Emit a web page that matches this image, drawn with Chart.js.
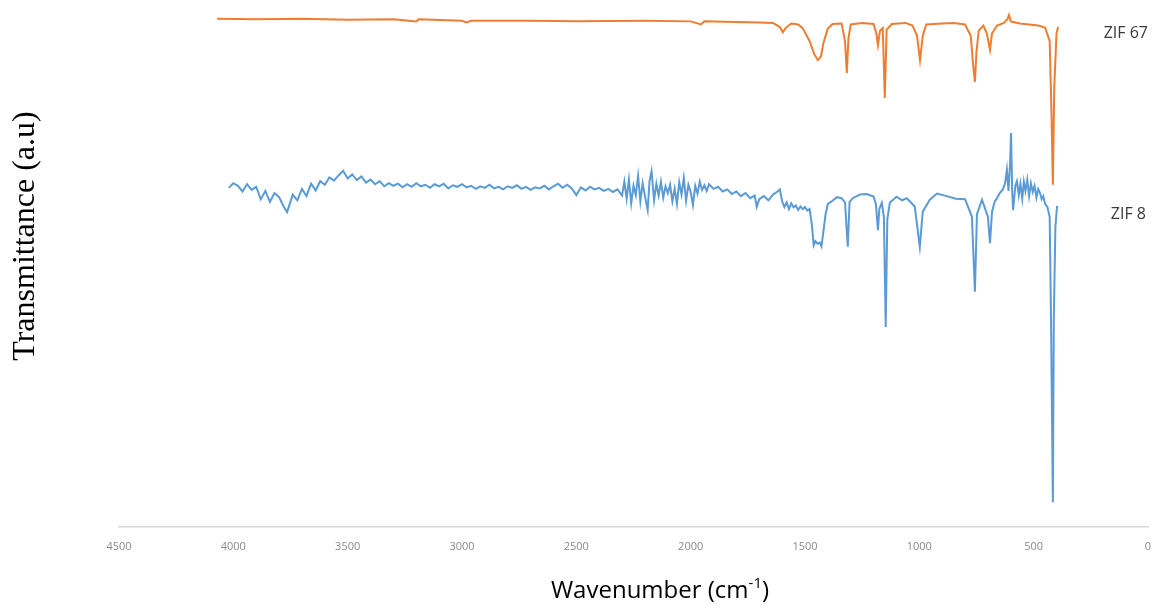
<!DOCTYPE html>
<html>
<head>
<meta charset="utf-8">
<script src="https://cdn.jsdelivr.net/npm/chart.js@4/dist/chart.umd.min.js"></script>
<style>
  html, body { margin: 0; padding: 0; background: #fff; }
  canvas { display: block; }
</style>
</head>
<body>
<canvas id="ftir" width="1155" height="606"></canvas>
<script>
// x tick labels (cm-1), axis runs from 4500 down to 0
const tickValues = [4500, 4000, 3500, 3000, 2500, 2000, 1500, 1000, 500, 0];

// ZIF 67 spectrum
const waveZif67 = [4071, 3900, 3700, 3500, 3300, 3200, 3190, 3000, 2980, 2960, 2700, 2500, 2200, 2000, 1955, 1940,
  1800, 1700, 1640, 1610, 1597, 1585, 1560, 1530, 1510, 1480, 1460, 1444, 1430, 1420, 1410, 1400, 1380, 1340,
  1325, 1317, 1310, 1300, 1250, 1200, 1188, 1181, 1172, 1160, 1151, 1143, 1120, 1060, 1030, 1010, 997, 985,
  970, 900, 850, 800, 775, 766, 757, 750, 740, 720, 705, 691, 682, 660, 630, 615, 608, 600, 560, 520, 480,
  450, 430, 422, 416, 410, 400, 393];
const transZif67 = [98.3, 98.2, 98.3, 98.1, 98.2, 97.8, 98.2, 97.9, 97.6, 97.9, 97.9, 97.8, 97.9, 97.8, 97.2, 97.8,
  97.7, 97.6, 97.5, 96.7, 95.7, 96.5, 97.4, 97.2, 96.5, 94.0, 91.5, 90.3, 91.0, 93.5, 95.0, 96.4, 97.3, 97.4,
  94.0, 87.8, 94.5, 97.2, 97.5, 97.3, 95.5, 93.2, 96.0, 96.5, 83.0, 96.2, 97.3, 97.5, 97.0, 95.0, 90.3, 95.0,
  97.2, 97.4, 97.5, 97.2, 95.0, 90.0, 86.1, 92.0, 96.0, 97.0, 95.5, 92.3, 95.5, 97.0, 97.5, 98.2, 99.0, 97.8,
  97.4, 97.2, 97.0, 96.6, 94.0, 80.0, 66.2, 85.0, 95.5, 96.7];

// ZIF 8 spectrum
const waveZif8 = [4020, 4000, 3980, 3960, 3940, 3920, 3900, 3880, 3860, 3840, 3820, 3800, 3780, 3765, 3740, 3720,
  3700, 3680, 3660, 3640, 3620, 3600, 3580, 3560, 3540, 3520, 3500, 3480, 3460, 3440, 3420, 3400, 3380, 3360,
  3340, 3320, 3300, 3280, 3260, 3240, 3220, 3200, 3180, 3160, 3140, 3120, 3100, 3080, 3060, 3040, 3020, 3000,
  2980, 2960, 2940, 2920, 2900, 2880, 2860, 2840, 2820, 2800, 2780, 2760, 2740, 2720, 2700, 2680, 2660, 2640,
  2620, 2600, 2580, 2560, 2540, 2520, 2500, 2480, 2460, 2440, 2420, 2400, 2380, 2360, 2340, 2320, 2300, 2290,
  2280, 2270, 2260, 2250, 2240, 2230, 2220, 2210, 2200, 2188, 2180, 2171, 2160, 2150, 2140, 2130, 2120, 2110,
  2100, 2090, 2080, 2070, 2060, 2050, 2040, 2030, 2020, 2010, 2000, 1990, 1980, 1970, 1960, 1950, 1940, 1930,
  1920, 1900, 1880, 1860, 1840, 1820, 1800, 1780, 1760, 1740, 1720, 1711, 1700, 1680, 1660, 1640, 1620, 1610,
  1600, 1590, 1580, 1570, 1560, 1550, 1540, 1530, 1520, 1510, 1500, 1490, 1480, 1470, 1462, 1455, 1445, 1435,
  1428, 1420, 1410, 1400, 1380, 1360, 1340, 1325, 1313, 1305, 1291, 1260, 1230, 1200, 1190, 1181, 1175, 1164,
  1155, 1147, 1140, 1129, 1100, 1075, 1055, 1020, 998, 985, 954, 923, 880, 840, 800, 770, 757, 748, 726, 700, 691, 682,
  670, 660, 650, 635, 625, 617, 610, 603, 599, 594, 590, 580, 573, 565, 558, 550, 543, 536, 528, 520, 512,
  504, 496, 488, 480, 472, 465, 458, 450, 440, 430, 424, 416, 412, 405, 398, 393];
const transZif8 = [65.6, 66.5, 66.0, 64.9, 66.3, 65.2, 65.8, 63.4, 65.0, 62.9, 64.6, 63.8, 62.0, 60.9, 64.3, 63.2,
  65.4, 64.0, 66.4, 65.1, 66.9, 66.2, 67.6, 67.0, 68.0, 68.9, 67.4, 68.2, 67.1, 67.8, 66.6, 67.2, 66.3, 66.9,
  65.9, 66.5, 66.0, 66.4, 65.7, 66.3, 65.8, 66.5, 65.9, 66.2, 65.6, 66.3, 65.9, 66.4, 65.5, 66.1, 65.8, 66.3,
  65.7, 66.0, 65.4, 65.9, 65.6, 66.2, 65.5, 65.8, 65.3, 65.9, 65.6, 66.1, 65.4, 65.8, 65.2, 65.7, 65.5, 66.0,
  65.3, 65.9, 66.4, 65.6, 66.2, 65.5, 64.2, 65.7, 65.1, 65.8, 65.3, 65.6, 65.0, 65.4, 64.8, 65.3, 64.1, 66.8,
  63.5, 67.2, 62.6, 66.0, 64.2, 67.9, 63.0, 66.5, 64.0, 61.3, 66.9, 68.8, 63.2, 66.4, 64.1, 66.8, 63.7, 65.9,
  64.6, 66.2, 63.0, 65.4, 62.5, 66.7, 64.3, 67.5, 63.1, 66.2, 64.8, 62.3, 66.0, 64.5, 66.8, 65.2, 66.1, 65.0,
  66.3, 65.4, 65.8, 64.9, 65.3, 64.4, 64.9, 64.0, 64.6, 63.6, 64.1, 61.9, 63.4, 64.0, 63.2, 64.3, 64.9, 65.3,
  63.0, 61.9, 62.8, 61.5, 62.6, 61.8, 62.2, 61.3, 62.0, 61.5, 61.9, 61.2, 61.5, 58.5, 54.5, 55.3, 54.8, 55.0,
  54.3, 57.0, 60.5, 62.5, 63.1, 63.8, 63.6, 62.8, 54.2, 62.9, 63.6, 64.3, 64.4, 63.9, 62.5, 57.4, 61.5, 62.7,
  60.0, 38.7, 59.5, 62.7, 63.9, 63.2, 63.6, 62.0, 54.2, 61.0, 63.3, 64.5, 64.0, 63.5, 63.4, 60.0, 45.5, 60.5, 63.3, 60.0, 54.9, 61.0,
  63.0, 63.6, 64.5, 65.3, 66.5, 69.1, 65.0, 70.5, 76.2, 65.0, 61.3, 66.0, 66.9, 64.2, 66.4, 63.5, 66.8, 65.0, 67.2, 64.0, 66.5,
  64.8, 66.0, 63.7, 65.4, 64.6, 63.4, 64.0, 62.5, 61.9, 60.0, 40.0, 4.8, 40.0, 58.0, 61.9, 61.9];

function toPoints(xs, ys) {
  return xs.map((x, i) => ({ x: x, y: ys[i] }));
}

// titles and series names drawn on top of the chart
const textPlugin = {
  id: "ftirText",
  afterDraw(chart) {
    const ctx = chart.ctx;
    ctx.save();
    ctx.fillStyle = "#000";

    // y title
    ctx.translate(34, 236);
    ctx.rotate(-Math.PI / 2);
    ctx.font = '32px "Liberation Serif"';
    ctx.textAlign = "center";
    ctx.textBaseline = "alphabetic";
    ctx.fillText("Transmittance (a.u)", 0, 0);
    ctx.setTransform(1, 0, 0, 1, 0, 0);

    // x title with superscript
    const main = "Wavenumber (cm";
    const sup = "-1";
    const end = ")";
    ctx.font = '24px "Open Sans"';
    const w1 = ctx.measureText(main).width;
    const w3 = ctx.measureText(end).width;
    ctx.font = '15px "Open Sans"';
    const w2 = ctx.measureText(sup).width;
    let x = 660 - (w1 + w2 + w3) / 2;
    const base = 598;
    ctx.textAlign = "left";
    ctx.font = '24px "Open Sans"';
    ctx.fillText(main, x, base);
    ctx.font = '15px "Open Sans"';
    ctx.fillText(sup, x + w1, base - 10);
    ctx.font = '24px "Open Sans"';
    ctx.fillText(end, x + w1 + w2, base);

    // series names
    ctx.fillStyle = "#3a3a3a";
    ctx.font = '16px "Open Sans"';
    ctx.textAlign = "right";
    ctx.textBaseline = "middle";
    ctx.fillText("ZIF 67", 1148, 33);
    ctx.fillText("ZIF 8", 1146, 214);
    ctx.restore();
  }
};

new Chart(document.getElementById("ftir"), {
  type: "line",
  data: {
    datasets: [
      {
        label: "ZIF 67",
        data: toPoints(waveZif67, transZif67),
        borderColor: "#ED7D31",
        borderWidth: 2,
        pointRadius: 0,
        tension: 0
      },
      {
        label: "ZIF 8",
        data: toPoints(waveZif8, transZif8),
        borderColor: "#5B9BD5",
        borderWidth: 2,
        pointRadius: 0,
        tension: 0
      }
    ]
  },
  options: {
    responsive: false,
    animation: false,
    layout: { padding: { left: 119, right: 7, top: 10, bottom: 0 } },
    plugins: {
      legend: { display: false },
      tooltip: { enabled: false }
    },
    scales: {
      x: {
        type: "linear",
        reverse: true,
        min: 0,
        max: 4500,
        afterBuildTicks: axis => {
          axis.ticks = tickValues.map(v => ({ value: v }));
        },
        afterFit: axis => {
          axis.height = 79;
          axis.paddingLeft = 0;
          axis.paddingRight = 0;
        },
        grid: { display: false, drawTicks: false },
        border: { display: true, color: "#d9d9d9", width: 1.5 },
        ticks: {
          color: "#8a8a8a",
          font: { family: "Open Sans", size: 11 },
          padding: 13,
          maxRotation: 0,
          autoSkip: false,
          callback: v => String(v)
        }
      },
      y: {
        display: false,
        min: 0,
        max: 100
      }
    }
  },
  plugins: [textPlugin]
});
</script>
</body>
</html>
